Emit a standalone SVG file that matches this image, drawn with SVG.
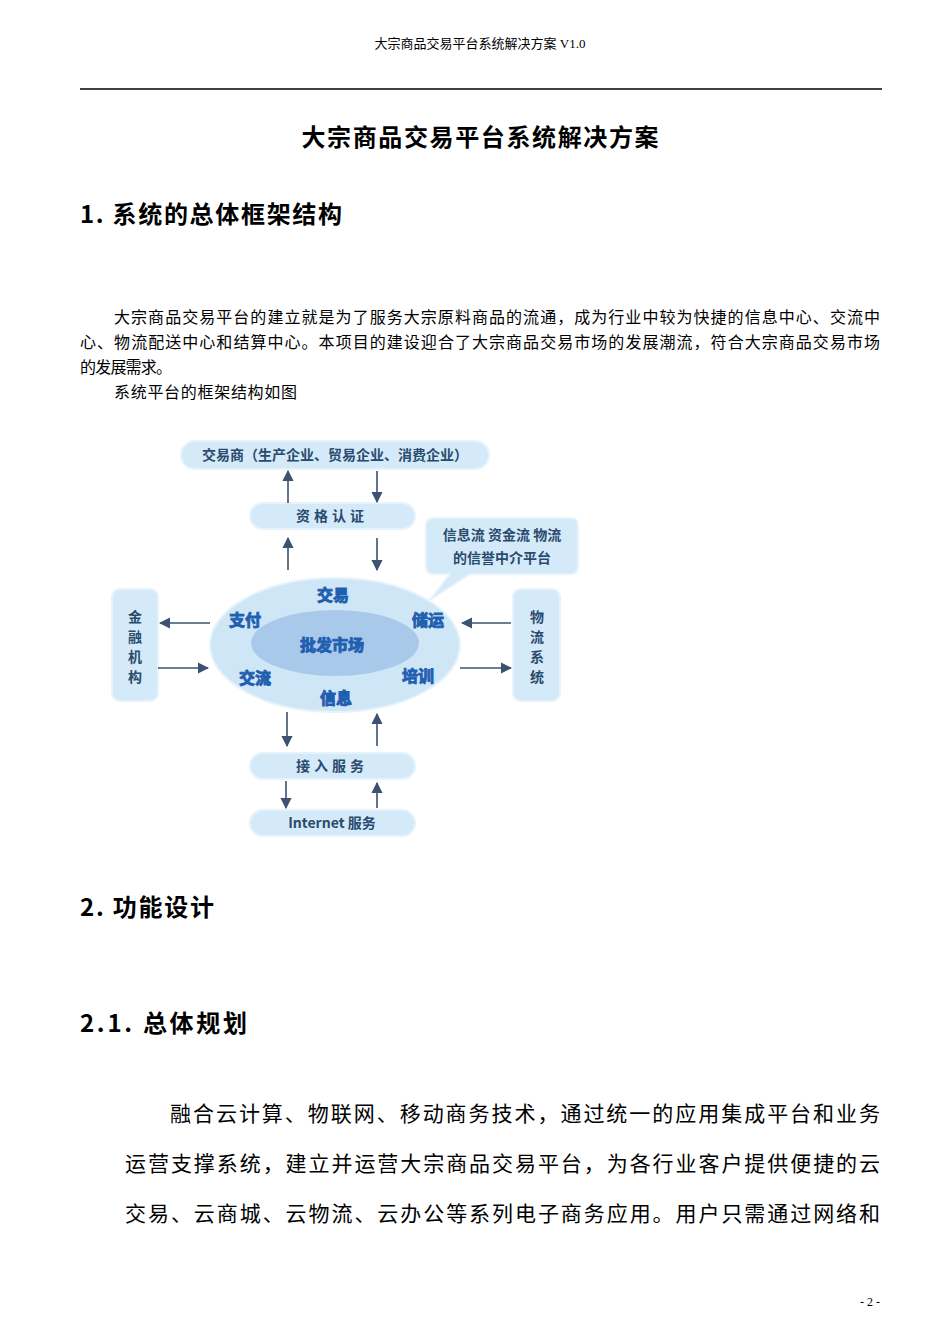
<svg xmlns="http://www.w3.org/2000/svg" width="950" height="1344" viewBox="0 0 950 1344">
<style>
.s{font-family:"Liberation Serif","Noto Sans CJK SC",serif;fill:#000}
.h{font-family:"Noto Sans CJK SC",sans-serif;font-weight:bold;fill:#000}
.b{fill:#d4eaf9;stroke:#e6f3fc;stroke-width:2}
.t{font-family:"Noto Sans CJK SC",sans-serif;font-weight:bold;fill:#2a4a6e;font-size:14px;text-anchor:middle}
.k{font-family:"Noto Sans CJK SC",sans-serif;font-weight:bold;fill:#1f5fb0;stroke:#1f5fb0;stroke-width:0.9;font-size:16px;text-anchor:middle}
.a{stroke:#3c5270;stroke-width:1.6;fill:none;marker-end:url(#m)}
</style>
<defs><marker id="m" viewBox="0 0 10 10" refX="9" refY="5" markerWidth="7" markerHeight="7" orient="auto"><path d="M0,0L10,5L0,10z" fill="#3c5270"/></marker></defs>
<rect width="950" height="1344" fill="#fff"/>
<text class="s" x="480" y="48" font-size="13" text-anchor="middle">大宗商品交易平台系统解决方案 V1.0</text>
<line x1="80" y1="89" x2="882" y2="89" stroke="#000" stroke-width="1.5"/>
<text class="h" x="480" y="146" font-size="24" text-anchor="middle" textLength="357">大宗商品交易平台系统解决方案</text>
<text class="h" x="80" y="223" font-size="24" textLength="262">1. 系统的总体框架结构</text>
<text class="s" font-size="16"><tspan x="114" y="323" textLength="766">大宗商品交易平台的建立就是为了服务大宗原料商品的流通，成为行业中较为快捷的信息中心、交流中</tspan><tspan x="80" y="348" textLength="800">心、物流配送中心和结算中心。本项目的建设迎合了大宗商品交易市场的发展潮流，符合大宗商品交易市场</tspan><tspan x="80" y="373" textLength="92">的发展需求。</tspan><tspan x="114" y="398" textLength="183">系统平台的框架结构如图</tspan></text>
<g id="traders"><rect class="b" x="181" y="441" width="308" height="28" rx="14"/><text class="t" x="335" y="460">交易商（生产企业、贸易企业、消费企业）</text></g>
<g id="cert"><rect class="b" x="250" y="503" width="165" height="26" rx="13"/><text class="t" x="332" y="521" letter-spacing="4">资格认证</text></g>
<g id="callout"><path class="b" d="M434,518H570Q578,518 578,526V566Q578,574 570,574H470L430,600L450,574H434Q426,574 426,566V526Q426,518 434,518Z"/><text class="t" x="502" y="540">信息流 资金流 物流</text><text class="t" x="502" y="563">的信誉中介平台</text></g>
<g id="market"><ellipse cx="335" cy="645" rx="125" ry="67" fill="#cfe6f7" stroke="#e6f3fc" stroke-width="2"/><ellipse cx="335" cy="643" rx="84" ry="33" fill="#a9c9ea"/>
<text class="k" x="333" y="601">交易</text><text class="k" x="245" y="626">支付</text><text class="k" x="428" y="626">储运</text><text class="k" x="332" y="651" font-size="20" fill="#6a8fc0" stroke="#2f5d99">批发市场</text><text class="k" x="255" y="684">交流</text><text class="k" x="418" y="682">培训</text><text class="k" x="336" y="704">信息</text></g>
<g id="finance"><rect class="b" x="112" y="589" width="46" height="112" rx="8"/><text class="t" x="135" y="622">金</text><text class="t" x="135" y="642">融</text><text class="t" x="135" y="662">机</text><text class="t" x="135" y="682">构</text></g>
<g id="logistics"><rect class="b" x="513" y="589" width="47" height="112" rx="8"/><text class="t" x="537" y="622">物</text><text class="t" x="537" y="642">流</text><text class="t" x="537" y="662">系</text><text class="t" x="537" y="682">统</text></g>
<g id="access"><rect class="b" x="250" y="753" width="165" height="26" rx="13"/><text class="t" x="332" y="771" letter-spacing="4">接入服务</text></g>
<g id="internet"><rect class="b" x="250" y="810" width="165" height="26" rx="13"/><text class="t" x="332" y="828">Internet 服务</text></g>
<g id="connectors">
<path class="a" d="M288,503V471"/><path class="a" d="M377,471V502"/>
<path class="a" d="M288,570V538"/><path class="a" d="M377,538V570"/>
<path class="a" d="M210,623H160"/><path class="a" d="M158,668H208"/>
<path class="a" d="M511,623H462"/><path class="a" d="M460,668H511"/>
<path class="a" d="M287,712V746"/><path class="a" d="M377,746V714"/>
<path class="a" d="M286,781V808"/><path class="a" d="M377,808V783"/>
</g>
<text class="h" x="80" y="916" font-size="24" textLength="134">2. 功能设计</text>
<text class="h" x="80" y="1032" font-size="24" textLength="167">2.1.  总体规划</text>
<text class="s" font-size="21"><tspan x="170" y="1121" textLength="710">融合云计算、物联网、移动商务技术，通过统一的应用集成平台和业务</tspan><tspan x="125" y="1171" textLength="755">运营支撑系统，建立并运营大宗商品交易平台，为各行业客户提供便捷的云</tspan><tspan x="125" y="1221" textLength="755">交易、云商城、云物流、云办公等系列电子商务应用。用户只需通过网络和</tspan></text>
<text class="s" x="870" y="1306" font-size="12" text-anchor="middle">- 2 -</text>
</svg>
